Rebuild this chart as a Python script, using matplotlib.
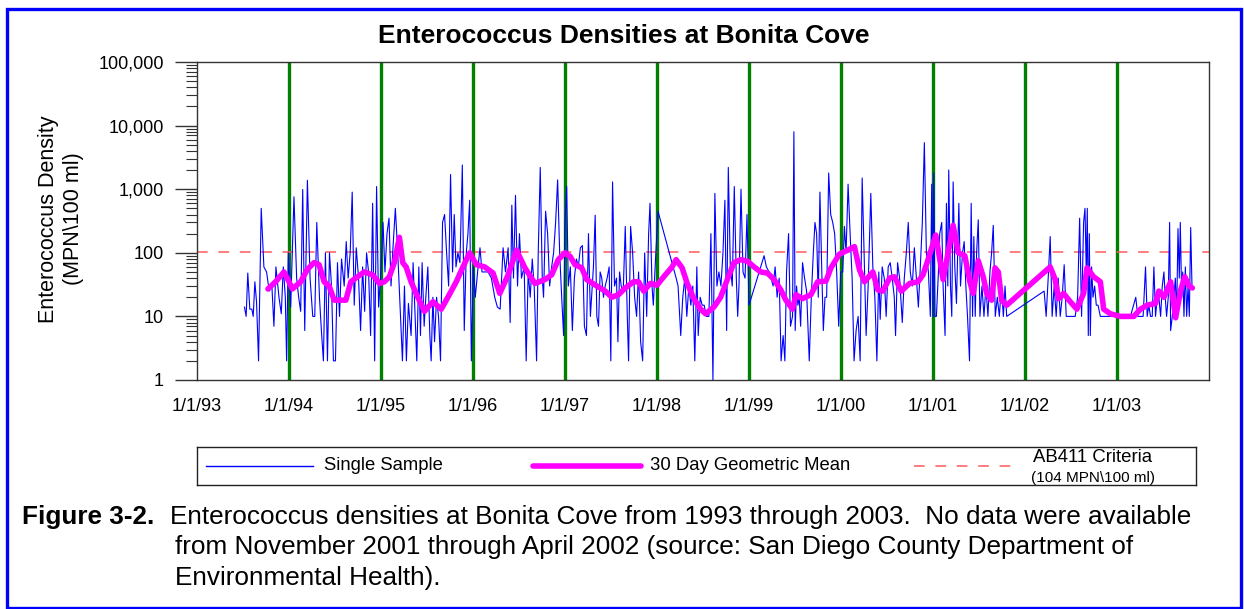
import matplotlib
matplotlib.use('Agg')
import matplotlib.pyplot as plt
from matplotlib.ticker import FuncFormatter, LogLocator, NullFormatter
from matplotlib.patches import Rectangle

plt.rcParams['font.family'] = ['Liberation Sans', 'DejaVu Sans']

# single sample densities (decimal year, MPN/100 ml)
ss_year = [
    1993.516, 1993.534, 1993.552, 1993.574, 1993.596, 1993.611, 1993.629, 1993.647, 1993.669, 1993.698,
    1993.727, 1993.756, 1993.785, 1993.814, 1993.836, 1993.858, 1993.891, 1993.916, 1993.938, 1993.960,
    1993.974, 1993.992, 1994.018, 1994.054, 1994.083, 1994.105, 1994.127, 1994.149, 1994.171, 1994.200,
    1994.229, 1994.258, 1994.280, 1994.302, 1994.331, 1994.352, 1994.374, 1994.396, 1994.418, 1994.440,
    1994.462, 1994.483, 1994.505, 1994.527, 1994.549, 1994.571, 1994.600, 1994.622, 1994.643, 1994.665,
    1994.687, 1994.709, 1994.731, 1994.756, 1994.778, 1994.800, 1994.822, 1994.843, 1994.865, 1994.887,
    1994.909, 1994.931, 1994.952, 1994.974, 1995.000, 1995.022, 1995.043, 1995.065, 1995.087, 1995.109,
    1995.127, 1995.156, 1995.182, 1995.207, 1995.233, 1995.255, 1995.276, 1995.298, 1995.327, 1995.349,
    1995.371, 1995.389, 1995.411, 1995.429, 1995.447, 1995.469, 1995.487, 1995.509, 1995.531, 1995.545,
    1995.564, 1995.582, 1995.604, 1995.625, 1995.647, 1995.669, 1995.691, 1995.713, 1995.735, 1995.756,
    1995.778, 1995.796, 1995.815, 1995.836, 1995.858, 1995.884, 1995.905, 1995.927, 1995.945, 1995.964,
    1995.982, 1996.004, 1996.025, 1996.055, 1996.076, 1996.098, 1996.127, 1996.164, 1996.200, 1996.236,
    1996.265, 1996.295, 1996.327, 1996.353, 1996.382, 1996.404, 1996.422, 1996.440, 1996.462, 1996.484,
    1996.505, 1996.527, 1996.556, 1996.578, 1996.600, 1996.622, 1996.644, 1996.665, 1996.691, 1996.709,
    1996.731, 1996.753, 1996.767, 1996.789, 1996.811, 1996.833, 1996.855, 1996.876, 1996.898, 1996.920,
    1996.942, 1996.964, 1996.985, 1997.000, 1997.018, 1997.036, 1997.058, 1997.080, 1997.102, 1997.124,
    1997.145, 1997.167, 1997.189, 1997.211, 1997.233, 1997.255, 1997.276,
    1997.309, 1997.328, 1997.346, 1997.364, 1997.382, 1997.400, 1997.418, 1997.437, 1997.458, 1997.480,
    1997.498, 1997.517, 1997.538, 1997.560, 1997.575, 1997.593, 1997.611, 1997.633, 1997.655, 1997.677,
    1997.691, 1997.713, 1997.735, 1997.757, 1997.778, 1997.800, 1997.822, 1997.844, 1997.866, 1997.888,
    1997.909, 1997.924, 1997.946, 1997.960, 1997.982, 1998.011, 1998.208, 1998.229, 1998.258, 1998.280,
    1998.302, 1998.324, 1998.346, 1998.368, 1998.389, 1998.411, 1998.433, 1998.448, 1998.469, 1998.491,
    1998.513, 1998.535, 1998.564, 1998.586, 1998.608, 1998.629, 1998.651, 1998.673, 1998.695, 1998.717,
    1998.738, 1998.757, 1998.775, 1998.797, 1998.818, 1998.840, 1998.862, 1998.877, 1998.891, 1998.913,
    1998.935, 1998.957, 1998.978, 1999.000, 1999.164, 1999.189, 1999.218, 1999.240, 1999.262, 1999.284,
    1999.306, 1999.328, 1999.349,
    1999.371, 1999.390, 1999.408, 1999.430, 1999.451, 1999.473, 1999.488, 1999.502, 1999.517, 1999.531,
    1999.546, 1999.561, 1999.582, 1999.604, 1999.626, 1999.655, 1999.677, 1999.699, 1999.717, 1999.735,
    1999.753, 1999.771, 1999.790, 1999.808, 1999.826, 1999.844, 1999.866, 1999.888, 1999.910, 1999.931,
    1999.953, 1999.975, 1999.997, 2000.019, 2000.037, 2000.055, 2000.077, 2000.099, 2000.121, 2000.142,
    2000.164, 2000.186, 2000.208, 2000.230, 2000.251, 2000.273, 2000.295, 2000.324, 2000.346, 2000.368,
    2000.390, 2000.411, 2000.426, 2000.448, 2000.470, 2000.491, 2000.513, 2000.535, 2000.557, 2000.579,
    2000.593, 2000.615, 2000.637, 2000.666, 2000.688, 2000.710, 2000.731, 2000.753, 2000.775, 2000.797,
    2000.819, 2000.841, 2000.862, 2000.884, 2000.906, 2000.928, 2000.950, 2000.971, 2000.986, 2001.001,
    2001.008, 2001.022, 2001.037, 2001.059, 2001.073, 2001.095, 2001.110, 2001.131, 2001.146, 2001.161,
    2001.171, 2001.190, 2001.204,
    2001.219, 2001.237, 2001.255, 2001.281, 2001.299, 2001.321, 2001.339, 2001.357, 2001.375, 2001.397,
    2001.415, 2001.430, 2001.444, 2001.459, 2001.474, 2001.492, 2001.510, 2001.532, 2001.554, 2001.575,
    2001.597, 2001.619, 2001.637, 2001.655, 2001.677, 2001.699, 2001.721, 2001.743, 2001.765, 2001.783,
    2001.801, 2002.208, 2002.230, 2002.252, 2002.274, 2002.295, 2002.317, 2002.339, 2002.361, 2002.383,
    2002.404, 2002.426, 2002.448, 2002.477, 2002.510, 2002.546, 2002.572, 2002.594, 2002.615, 2002.637,
    2002.652, 2002.666, 2002.677, 2002.688, 2002.699, 2002.710, 2002.724, 2002.739, 2002.757, 2002.775,
    2002.794, 2002.819, 2002.855, 2002.928, 2003.001, 2003.074, 2003.146, 2003.204, 2003.226, 2003.255,
    2003.284, 2003.310, 2003.328, 2003.346, 2003.364, 2003.383, 2003.401, 2003.419, 2003.437, 2003.455,
    2003.474, 2003.492, 2003.510, 2003.524, 2003.539, 2003.557, 2003.572, 2003.583, 2003.601, 2003.619,
    2003.634, 2003.648, 2003.663, 2003.677, 2003.688, 2003.703, 2003.714, 2003.728, 2003.743, 2003.757,
    2003.772, 2003.786, 2003.801, 2003.815,
]
ss_val = [
    14, 10, 48, 13, 13, 10, 35, 17, 2, 500,
    60, 50, 25, 30, 7, 60, 20, 11, 60, 20,
    2, 100, 14, 760, 40, 20, 12, 990, 6, 1380,
    40, 10, 10, 300, 20, 6, 2, 100, 2, 100,
    30, 2, 2, 70, 10, 80, 30, 150, 40, 100,
    900, 15, 120, 40, 6, 60, 12, 100, 50, 5,
    600, 2, 1100, 14, 55, 300, 50, 200, 350, 30,
    100, 500, 100, 15, 2, 30, 2, 16, 5, 70,
    10, 2, 60, 5, 70, 7, 20, 60, 5, 2,
    20, 4, 20, 10, 2, 300, 400, 100, 30, 1700,
    50, 400, 60, 100, 70, 2400, 6, 100, 200, 670,
    2, 60, 20, 60, 120, 50, 50, 50, 40, 20,
    14, 13, 120, 50, 120, 8, 560, 40, 800, 30,
    200, 40, 60, 2, 50, 20, 80, 30, 2, 100,
    2200, 40, 20, 450, 200, 30, 60, 100, 300, 1400,
    100, 20, 5, 300, 1100, 30, 60, 6, 40, 80,
    60, 120, 130, 7, 5, 200, 10,
    60, 390, 10, 7, 50, 40, 20, 30, 40, 60,
    2, 1300, 30, 40, 4, 50, 30, 25, 260, 10,
    2, 260, 100, 20, 10, 50, 4, 2, 100, 10,
    200, 600, 30, 15, 70, 450, 40, 30, 5, 20,
    40, 10, 30, 15, 30, 2, 60, 5, 20, 15,
    15, 10, 10, 200, 1, 860, 30, 50, 30, 100,
    670, 6, 2200, 60, 30, 1100, 40, 10, 30, 1000,
    50, 40, 400, 15, 90, 60, 50, 40, 30, 60,
    20, 40, 2,
    5, 2, 50, 200, 7, 10, 8000, 6, 30, 15,
    20, 7, 70, 40, 25, 2, 20, 100, 300, 200,
    20, 900, 60, 6, 20, 20, 1800, 400, 300, 200,
    50, 7, 50, 50, 260, 100, 1200, 200, 40, 2,
    6, 10, 2, 1500, 100, 5, 30, 860, 60, 20,
    2, 50, 9, 60, 40, 10, 60, 70, 40, 20,
    5, 70, 40, 8, 40, 100, 300, 50, 30, 120,
    40, 14, 60, 300, 5400, 100, 50, 10, 1200, 10,
    1800, 10, 10, 50, 200, 300, 30, 5, 600, 30,
    2000, 30, 10,
    1300, 60, 16, 600, 30, 100, 150, 30, 10, 2,
    600, 10, 180, 10, 100, 330, 10, 30, 10, 30,
    10, 50, 100, 270, 10, 20, 10, 30, 10, 30,
    10, 25, 10, 40, 180, 10, 30, 10, 40, 10,
    20, 65, 10, 10, 10, 10, 20, 350, 10, 300,
    500, 50, 500, 5, 200, 5, 60, 20, 30, 15,
    15, 10, 10, 10, 10, 10, 10, 20, 10, 10,
    10, 60, 10, 15, 10, 10, 60, 10, 20, 20,
    10, 30, 50, 20, 10, 20, 300, 6, 10, 20,
    40, 10, 240, 40, 300, 20, 50, 10, 60, 10,
    30, 10, 250, 30,
]

# 30 day geometric mean
gm_year = [
    1993.771, 1993.854, 1993.945, 1994.000, 1994.036, 1994.127, 1994.200, 1994.272, 1994.327, 1994.382,
    1994.436, 1994.491, 1994.563, 1994.618, 1994.672, 1994.745, 1994.818, 1994.909, 1994.982, 1995.036,
    1995.091, 1995.145, 1995.200, 1995.236, 1995.273, 1995.327, 1995.400, 1995.473, 1995.564, 1995.655,
    1995.727, 1995.818, 1995.891, 1995.964, 1996.036, 1996.127, 1996.218, 1996.291, 1996.382, 1996.473,
    1996.564, 1996.673, 1996.782, 1996.855, 1996.927, 1997.000, 1997.055, 1997.109, 1997.182, 1997.236,
    1997.346, 1997.437, 1997.509, 1997.582, 1997.655, 1997.746, 1997.800, 1997.855, 1997.928, 1998.000,
    1998.073, 1998.164, 1998.208, 1998.273, 1998.328, 1998.400, 1998.473, 1998.528, 1998.618, 1998.691,
    1998.764, 1998.837, 1998.909, 1998.982, 1999.055, 1999.128, 1999.200, 1999.273, 1999.346, 1999.401,
    1999.473, 1999.510, 1999.582, 1999.673, 1999.746, 1999.837, 1999.891, 1999.982, 2000.073, 2000.146,
    2000.201, 2000.255, 2000.346, 2000.401, 2000.455, 2000.528, 2000.582, 2000.655, 2000.746, 2000.837,
    2000.891, 2000.946, 2001.030, 2001.110, 2001.182, 2001.219, 2001.274, 2001.346, 2001.401, 2001.437,
    2001.492, 2001.546, 2001.583, 2001.637, 2001.674, 2001.710, 2001.746, 2001.801, 2002.274, 2002.328,
    2002.364, 2002.419, 2002.492, 2002.564, 2002.637, 2002.674, 2002.746, 2002.819, 2002.855, 2002.928,
    2003.037, 2003.183, 2003.255, 2003.328, 2003.419, 2003.455, 2003.510, 2003.583, 2003.637, 2003.692,
    2003.737, 2003.783, 2003.819,
]
gm_val = [
    27, 35, 50, 35, 27, 35, 55, 70, 65, 35,
    30, 18, 18, 18, 35, 42, 50, 45, 33, 35,
    42, 70, 175, 70, 60, 35, 20, 12, 17, 13,
    20, 35, 60, 100, 65, 60, 48, 23, 45, 110,
    58, 33, 38, 45, 78, 100, 88, 65, 58, 38,
    30, 25, 20, 22, 28, 35, 35, 25, 33, 31,
    42, 60, 78, 58, 33, 19, 13, 11, 14, 20,
    38, 70, 78, 74, 60, 50, 48, 38, 26, 18,
    13, 22, 19, 22, 35, 36, 58, 95, 110, 125,
    54, 35, 50, 26, 25, 40, 42, 25, 33, 35,
    45, 78, 190, 38, 140, 270, 100, 90, 35, 23,
    75, 42, 23, 18, 58, 50, 18, 15, 60, 38,
    19, 23, 17, 13, 23, 58, 42, 35, 13, 11,
    10, 10, 13, 15, 16, 25, 20, 35, 9.5, 26,
    42, 30, 28,
]

criteria = 104
tick_years = list(range(1993, 2004))
tick_labels = ['1/1/%02d' % (y % 100) for y in tick_years]
y_ticks = [1, 10, 100, 1000, 10000, 100000]

W, H = 1244, 609
def fx(px):
    return px / W
def fy(py):
    return 1 - py / H

fig = plt.figure(figsize=(W / 100, H / 100), dpi=100)

ax = fig.add_axes([fx(197), fy(380), fx(1209) - fx(197), fy(62) - fy(380)])
for yr in tick_years[1:]:
    ax.axvline(yr, color='#008000', lw=2.4, zorder=1)
ax.axhline(criteria, color='#ff5a5a', lw=1.1, dashes=(7, 7), zorder=2)
ax.plot(ss_year, ss_val, color='#0000ff', lw=0.8, zorder=3)
ax.plot(gm_year, gm_val, color='#ff00ff', lw=4, zorder=4,
        solid_joinstyle='round', solid_capstyle='round')

ax.set_yscale('log')
ax.set_ylim(1, 100000)
ax.set_xlim(1993, 2004)
ax.set_yticks(y_ticks)
ax.yaxis.set_major_formatter(FuncFormatter(lambda v, p: f'{int(round(v)):,}'))
ax.yaxis.set_minor_locator(LogLocator(base=10, subs=range(2, 10), numticks=20))
ax.yaxis.set_minor_formatter(NullFormatter())
ax.set_xticks(tick_years)
ax.set_xticklabels(tick_labels)
ax.tick_params(axis='y', which='major', length=16, width=1, pad=8, labelsize=13, color='#333333')
ax.tick_params(axis='y', which='minor', length=8, width=0.8, color='#333333')
ax.tick_params(axis='x', length=0, pad=13, labelsize=13)
for s in ax.spines.values():
    s.set_color('#333333')
    s.set_linewidth(1)

fig.text(fx(624), fy(36), 'Enterococcus Densities at Bonita Cove', fontsize=19,
         fontweight='bold', ha='center', va='center')
fig.text(fx(61), fy(219), 'Enterococcus Density\n(MPN\\100 ml)', rotation=90, fontsize=15.5,
         ha='center', va='center', multialignment='center')

# legend box
lax = fig.add_axes([fx(197), fy(485), fx(1196) - fx(197), fy(447) - fy(485)])
lax.set_xlim(0, 999)
lax.set_ylim(0, 38)
lax.set_xticks([])
lax.set_yticks([])
for s in lax.spines.values():
    s.set_color('#222222')
    s.set_linewidth(1)
lax.plot([9, 116], [19, 19], color='#0000ff', lw=1)
lax.text(127, 19, 'Single Sample', fontsize=13.3, va='center')
lax.plot([336, 444], [19, 19], color='#ff00ff', lw=4, solid_capstyle='round')
lax.text(453, 19, '30 Day Geometric Mean', fontsize=13.3, va='center')
lax.plot([717, 823], [19, 19], color='#ff5a5a', lw=1.1, dashes=(7, 7))
lax.text(896, 27, 'AB411 Criteria', fontsize=13.4, ha='center', va='center')
lax.text(896, 7, '(104 MPN\\100 ml)', fontsize=11, ha='center', va='center')

# caption
fig.text(fx(22), fy(517), 'Figure 3-2.', fontsize=18.8, fontweight='bold', va='center')
fig.text(fx(170), fy(517), 'Enterococcus densities at Bonita Cove from 1993 through 2003.  '
         'No data were available', fontsize=18.8, va='center')
fig.text(fx(175), fy(547), 'from November 2001 through April 2002 (source: San Diego County '
         'Department of', fontsize=18.8, va='center')
fig.text(fx(175), fy(578), 'Environmental Health).', fontsize=18.8, va='center')

fig.patches.append(Rectangle((fx(6.5), fy(607.5)), fx(1241) - fx(6.5), fy(9) - fy(607.5),
                             transform=fig.transFigure, fill=False, edgecolor='#0000ff', lw=2.4))

fig.savefig('out.png', dpi=100)
